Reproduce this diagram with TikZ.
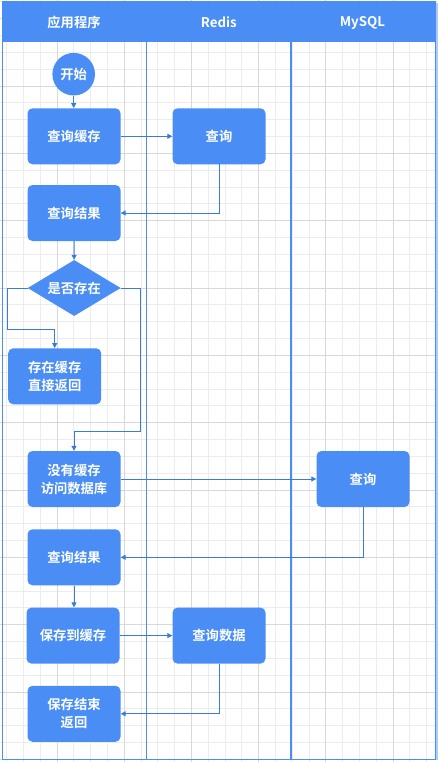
\documentclass[tikz,border=0pt]{standalone}
\usepackage{fontspec}
\setmainfont{Noto Sans CJK SC}[BoldFont={Noto Sans CJK SC Bold}]
\usetikzlibrary{shapes.geometric,arrows.meta}
\definecolor{boxblue}{RGB}{73,141,245}
\definecolor{lineblue}{RGB}{58,122,216}
\definecolor{laneblue}{RGB}{74,142,245}
\definecolor{gridminor}{RGB}{236,236,236}
\definecolor{gridmajor}{RGB}{216,216,216}
\begin{document}
\begin{tikzpicture}[x=1pt,y=-1pt,
  txt/.style={text=white,font=\bfseries\fontsize{13.3}{18}\selectfont,align=center,inner sep=0pt},
  proc/.style={txt,rectangle,rounded corners=5pt,fill=boxblue,minimum width=93pt,minimum height=56pt},
  startnode/.style={txt,circle,fill=boxblue,minimum size=42.6pt},
  decision/.style={txt,diamond,aspect=1.66,fill=boxblue,minimum width=93pt,minimum height=56pt},
  hdr/.style={txt},
  conn/.style={draw=lineblue,line width=1pt,-{Triangle[length=5pt,width=5pt]}},
  lane/.style={draw=laneblue,line width=1.2pt}]
\useasboundingbox (0,0) rectangle (438,762);
\fill[white] (0,0) rectangle (438,762);
\begin{scope}
\clip (0,0) rectangle (438,762);
\foreach \i in {0,...,27}{
  \pgfmathsetmacro\xx{-10.2+16.8*\i}
  \draw[gridminor,line width=0.8pt] (\xx,0) -- (\xx,762);
}
\foreach \j in {0,...,45}{
  \pgfmathsetmacro\yy{1.9+16.83*\j}
  \draw[gridminor,line width=0.8pt] (0,\yy) -- (438,\yy);
}
\foreach \i in {0,4,...,24}{
  \pgfmathsetmacro\xx{-10.2+16.8*\i}
  \draw[gridmajor,line width=0.8pt] (\xx,0) -- (\xx,762);
}
\foreach \j in {1,5,...,45}{
  \pgfmathsetmacro\yy{1.9+16.83*\j}
  \draw[gridmajor,line width=0.8pt] (0,\yy) -- (438,\yy);
}
\end{scope}
% pool
\fill[laneblue] (2,2) rectangle (435.5,42.5);
\draw[laneblue,line width=1pt] (2,2) rectangle (435.5,759);
\draw[laneblue!45,line width=2pt] (436.5,3) -- (436.5,760);
\draw[lane] (146.7,42.5) -- (146.7,759);
\draw[lane] (291,42.5) -- (291,759);
\node[hdr] (h1) at (74,22.5) {应用程序};
\node[hdr] (h2) at (218.8,22.5) {Redis};
\node[hdr] (h3) at (362.5,22.5) {MySQL};
% nodes
\node[startnode] (start) at (73.7,74.2) {开始};
\node[proc] (n1) at (74,136.3) {查询缓存};
\node[proc] (r1) at (219,136.3) {查询};
\node[proc] (n2) at (74,213) {查询结果};
\node[decision] (d) at (74.2,288) {是否存在};
\node[proc] (n3) at (54.7,376.3) {存在缓存\\直接返回};
\node[proc] (n4) at (74,479) {没有缓存\\访问数据库};
\node[proc] (m1) at (363,479) {查询};
\node[proc] (n5) at (74,557.3) {查询结果};
\node[proc] (n6) at (73,635.6) {保存到缓存};
\node[proc] (r2) at (219,635.6) {查询数据};
\node[proc] (n7) at (74,713.8) {保存结束\\返回};
% connectors
\coordinate (c1) at (7.5,329);
\coordinate (c2) at (140,431.7);
\draw[conn] (start) -- (start |- n1.north);
\draw[conn] (n1) -- (r1);
\draw[conn] (r1.south) |- (n2.east);
\draw[conn] (n2) -- (d);
\draw[conn] (d.west) -| (c1) -| (n3.north);
\draw[conn] (d.east) -| (c2) -| (n4.north);
\draw[conn] (n4) -- (m1);
\draw[conn] (m1.south) |- (n5.east);
\draw[conn] (n5.south) -- (n5.south |- n6.north);
\draw[conn] (n6) -- (r2);
\draw[conn] (r2.south) |- (n7.east);
\end{tikzpicture}
\end{document}
